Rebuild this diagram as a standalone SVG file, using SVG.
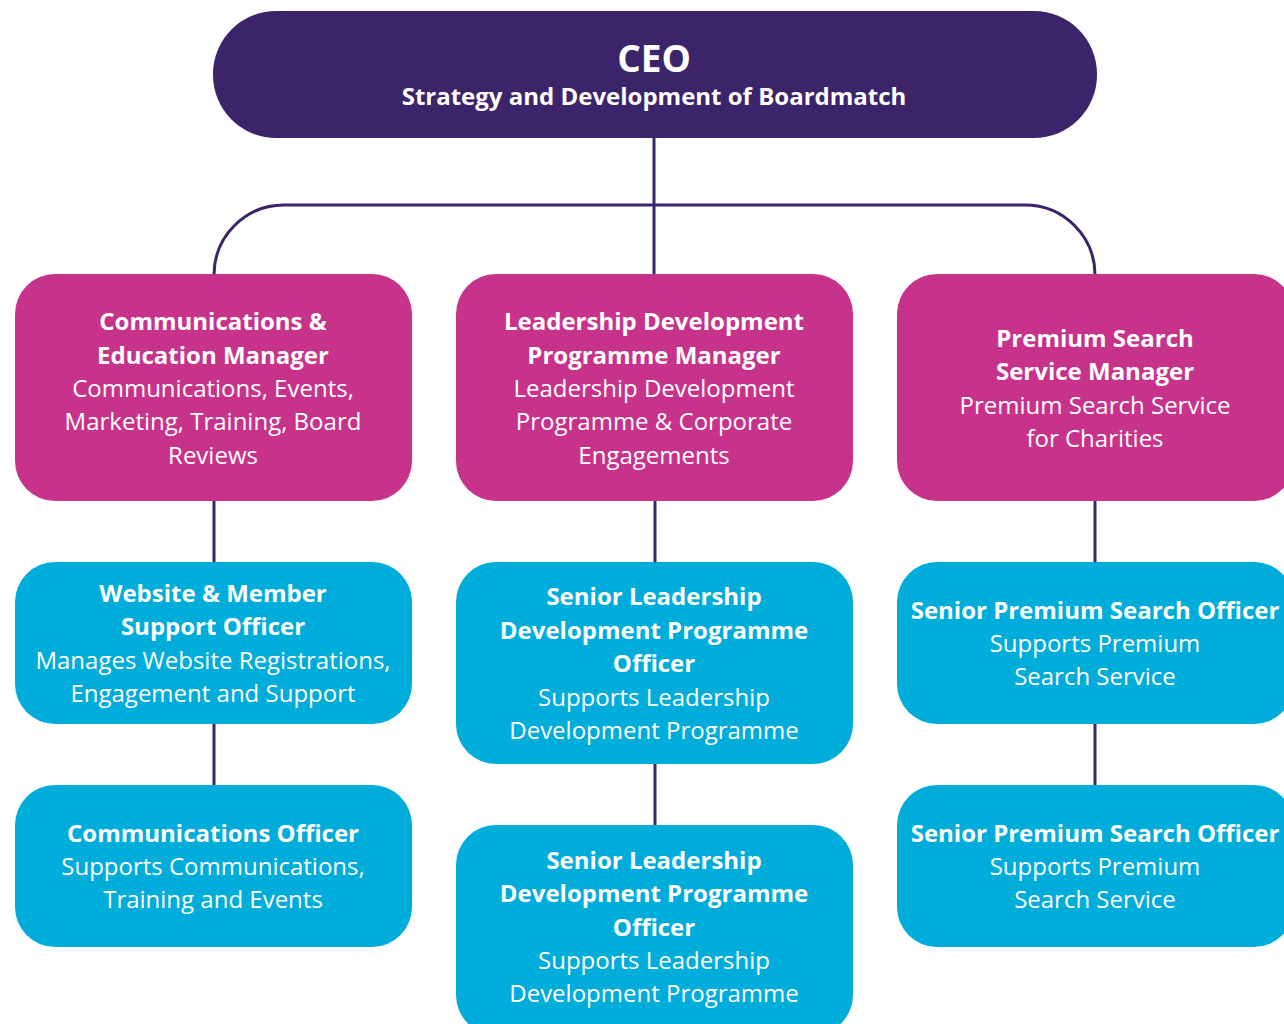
<svg xmlns="http://www.w3.org/2000/svg" width="1284" height="1024" viewBox="0 0 1284 1024">
<style>
text{font-family:"Open Sans","Noto Sans","Liberation Sans",sans-serif;fill:#fff;text-anchor:middle;font-size:24px}
.b{font-weight:700}
.mag{fill:#c7338a}
.blu{fill:#00acd9}
.con{stroke:#3c246a;stroke-width:3;fill:none}
</style>
<rect width="1284" height="1024" fill="#fff"/>
<g id="connectors">
<path class="con" d="M654 137V275"/>
<path class="con" d="M214 275A70 70 0 0 1 284 205H1025A70 70 0 0 1 1095 275"/>
<path class="con" d="M214 500V563M214 723V786M655 500V563M655 763V826M1095 500V563M1095 723V786"/>
</g>
<g id="ceo">
<rect x="213" y="11" width="884" height="127" rx="63" fill="#3c246a"/>
<text x="654" y="72" class="b" style="font-size:37px">CEO</text>
<text x="654" y="105" class="b">Strategy and Development of Boardmatch</text>
</g>
<g id="comms-manager">
<rect class="mag" x="15" y="274" width="397" height="227" rx="40"/>
<text x="213" y="330" class="b">Communications &amp;</text>
<text x="213" y="364" class="b">Education Manager</text>
<text x="213" y="397">Communications, Events,</text>
<text x="213" y="430">Marketing, Training, Board</text>
<text x="213" y="464">Reviews</text>
</g>
<g id="ldp-manager">
<rect class="mag" x="456" y="274" width="397" height="227" rx="40"/>
<text x="654" y="330" class="b">Leadership Development</text>
<text x="654" y="364" class="b">Programme Manager</text>
<text x="654" y="397">Leadership Development</text>
<text x="654" y="430">Programme &amp; Corporate</text>
<text x="654" y="464">Engagements</text>
</g>
<g id="ps-manager">
<rect class="mag" x="897" y="274" width="397" height="227" rx="40"/>
<text x="1095" y="347" class="b">Premium Search</text>
<text x="1095" y="380" class="b">Service Manager</text>
<text x="1095" y="414">Premium Search Service</text>
<text x="1095" y="447">for Charities</text>
</g>
<g id="website-officer">
<rect class="blu" x="15" y="562" width="397" height="162" rx="40"/>
<text x="213" y="602" class="b">Website &amp; Member</text>
<text x="213" y="635" class="b">Support Officer</text>
<text x="213" y="669">Manages Website Registrations,</text>
<text x="213" y="702">Engagement and Support</text>
</g>
<g id="comms-officer">
<rect class="blu" x="15" y="785" width="397" height="162" rx="40"/>
<text x="213" y="842" class="b">Communications Officer</text>
<text x="213" y="875">Supports Communications,</text>
<text x="213" y="908">Training and Events</text>
</g>
<g id="sldp-officer-1">
<rect class="blu" x="456" y="562" width="397" height="202" rx="40"/>
<text x="654" y="605" class="b">Senior Leadership</text>
<text x="654" y="639" class="b">Development Programme</text>
<text x="654" y="672" class="b">Officer</text>
<text x="654" y="706">Supports Leadership</text>
<text x="654" y="739">Development Programme</text>
</g>
<g id="sldp-officer-2">
<rect class="blu" x="456" y="825" width="397" height="210" rx="40"/>
<text x="654" y="869" class="b">Senior Leadership</text>
<text x="654" y="902" class="b">Development Programme</text>
<text x="654" y="936" class="b">Officer</text>
<text x="654" y="969">Supports Leadership</text>
<text x="654" y="1002">Development Programme</text>
</g>
<g id="sps-officer-1">
<rect class="blu" x="897" y="562" width="397" height="162" rx="40"/>
<text x="1095" y="619" class="b">Senior Premium Search Officer</text>
<text x="1095" y="652">Supports Premium</text>
<text x="1095" y="685">Search Service</text>
</g>
<g id="sps-officer-2">
<rect class="blu" x="897" y="785" width="397" height="162" rx="40"/>
<text x="1095" y="842" class="b">Senior Premium Search Officer</text>
<text x="1095" y="875">Supports Premium</text>
<text x="1095" y="908">Search Service</text>
</g>
</svg>
